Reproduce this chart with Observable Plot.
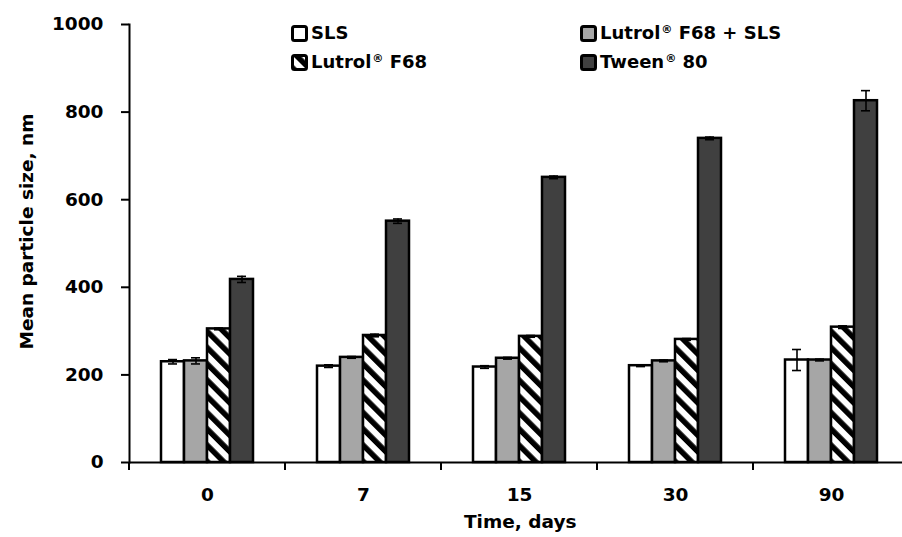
<!DOCTYPE html>
<html>
<head>
<meta charset="utf-8">
<script src="https://cdn.jsdelivr.net/npm/d3@7"></script>
<script src="https://cdn.jsdelivr.net/npm/@observablehq/plot@0.6"></script>
<style>
  html, body { margin: 0; padding: 0; background: white; overflow: hidden; }
  #wrap { position: relative; width: 902px; height: 537px; font-family: "DejaVu Sans", sans-serif; font-weight: bold; color: black; }
  #wrap svg { overflow: hidden; }
  #wrap svg text { font-size: 18.5px; font-weight: bold; font-family: "DejaVu Sans", sans-serif; }
  .leg { position: absolute; display: flex; align-items: center; font-size: 18px; line-height: 1; white-space: nowrap; }
  .leg svg { margin-right: 3px; }
  .leg sup { font-size: 0.62em; vertical-align: 0.5em; margin-left: 1px; }
  .atitle { position: absolute; font-size: 18.5px; white-space: nowrap; }
</style>
</head>
<body>
<div id="wrap"></div>
<script>
// ---- data ----
const days = ["0", "7", "15", "30", "90"];
const series = ["SLS", "Lutrol® F68 + SLS", "Lutrol® F68", "Tween® 80"];
const slsValues = [230, 220, 218, 221, 234];
const slsErrors = [5, 3, 3, 2, 24];
const lutrolSlsValues = [232, 240, 238, 232, 234];
const lutrolSlsErrors = [7, 2, 2, 2, 2];
const lutrolValues = [305, 290, 288, 281, 309];
const lutrolErrors = [2, 3, 2, 2, 3];
const tweenValues = [418, 551, 651, 740, 826];
const tweenErrors = [7, 5, 3, 3, 23];
const yTicks = [0, 200, 400, 600, 800, 1000];
const fills = ["white", "#a6a6a6", "url(#hatch)", "#404040"];

const valueSets = [slsValues, lutrolSlsValues, lutrolValues, tweenValues];
const errorSets = [slsErrors, lutrolSlsErrors, lutrolErrors, tweenErrors];
const rows = days.flatMap((day, i) => series.map((s, j) => ({
  day, series: s, value: valueSets[j][i], err: errorSets[j][i]
})));

const chart = Plot.plot({
  width: 902,
  height: 537,
  marginLeft: 127,
  marginRight: -9,
  marginTop: 24,
  marginBottom: 75,
  style: { fontFamily: "'DejaVu Sans', sans-serif", fontWeight: "bold", fontSize: "18.5px", color: "black", background: "white" },
  fx: { domain: days, padding: 0, label: null, axis: null },
  x: { domain: series, paddingInner: 0, paddingOuter: 1.29, axis: null },
  y: { domain: [0, 1000], label: null, axis: null },
  color: { domain: series, range: fills },
  marks: [
    Plot.barY(rows, { fx: "day", x: "series", y: "value", fill: "series", stroke: "black", strokeWidth: 2.5 }),
    Plot.ruleX(rows, { fx: "day", x: "series", y1: d => d.value - d.err, y2: d => d.value + d.err, stroke: "black", strokeWidth: 1.6 }),
    Plot.tickY(rows, { fx: "day", x: "series", y: d => d.value + d.err, insetLeft: 7, insetRight: 7, stroke: "black", strokeWidth: 1.6 }),
    Plot.tickY(rows, { fx: "day", x: "series", y: d => d.value - d.err, insetLeft: 7, insetRight: 7, stroke: "black", strokeWidth: 1.6 }),
    Plot.ruleY([0], { stroke: "black", strokeWidth: 2 }),
    Plot.frame({ anchor: "left", facetAnchor: "left", stroke: "black", strokeWidth: 2 }),
    Plot.axisY({ ticks: yTicks, tickFormat: d => String(d), tickSize: 8, tickPadding: 18, strokeWidth: 2, label: null }),
    Plot.axisFx({ anchor: "bottom", tickSize: 0, tickPadding: 25, label: null })
  ]
});

// hatch pattern definition
const svgSel = d3.select(chart.tagName.toLowerCase() === "svg" ? chart : chart.querySelector("svg"));
const defs = svgSel.insert("defs", ":first-child");
const pat = defs.append("pattern").attr("id", "hatch").attr("patternUnits", "userSpaceOnUse")
  .attr("width", 11.5).attr("height", 11.5).attr("patternTransform", "rotate(-45)");
pat.append("rect").attr("width", 11.5).attr("height", 11.5).attr("fill", "white");
pat.append("rect").attr("width", 5.5).attr("height", 11.5).attr("fill", "black");

// group boundary ticks on the x axis, from the fx scale
const fxScale = chart.scale("fx");
const yScale = chart.scale("y");
const y0 = yScale.apply(0);
const edges = days.map(d => fxScale.apply(d));
edges.push(fxScale.apply(days[days.length - 1]) + fxScale.step);
svgSel.append("g").selectAll("line").data(edges).join("line")
  .attr("x1", d => d).attr("x2", d => d)
  .attr("y1", y0).attr("y2", y0 + 8)
  .attr("stroke", "black").attr("stroke-width", 2);

const wrap = document.getElementById("wrap");
wrap.appendChild(chart);

// legend (HTML overlay)
const legendPos = [
  { left: 291, top: 24 }, { left: 580, top: 24 },
  { left: 291, top: 53 }, { left: 580, top: 53 }
];
series.forEach((s, j) => {
  const item = document.createElement("div");
  item.className = "leg";
  item.style.left = legendPos[j].left + "px";
  item.style.top = legendPos[j].top + "px";
  const pattern = j === 2
    ? `<defs><pattern id="hatchL" patternUnits="userSpaceOnUse" width="11.5" height="11.5" patternTransform="rotate(-45)"><rect width="11.5" height="11.5" fill="white"/><rect width="5.5" height="11.5" fill="black"/></pattern></defs>`
    : "";
  const fill = j === 2 ? "url(#hatchL)" : fills[j];
  item.innerHTML = `<svg width="17" height="17">${pattern}<rect x="1.5" y="1.5" width="14" height="14" rx="2" fill="${fill}" stroke="black" stroke-width="3"/></svg>` +
    `<span>${s.replace("®", "<sup>®</sup>")}</span>`;
  wrap.appendChild(item);
});

// axis titles
const xt = document.createElement("div");
xt.className = "atitle";
xt.textContent = "Time, days";
wrap.appendChild(xt);
xt.style.left = (520 - xt.offsetWidth / 2) + "px";
xt.style.top = (521 - xt.offsetHeight / 2) + "px";

const yt = document.createElement("div");
yt.className = "atitle";
yt.textContent = "Mean particle size, nm";
wrap.appendChild(yt);
yt.style.left = (27 - yt.offsetWidth / 2) + "px";
yt.style.top = (231 - yt.offsetHeight / 2) + "px";
yt.style.transform = "rotate(-90deg)";
</script>
</body>
</html>
